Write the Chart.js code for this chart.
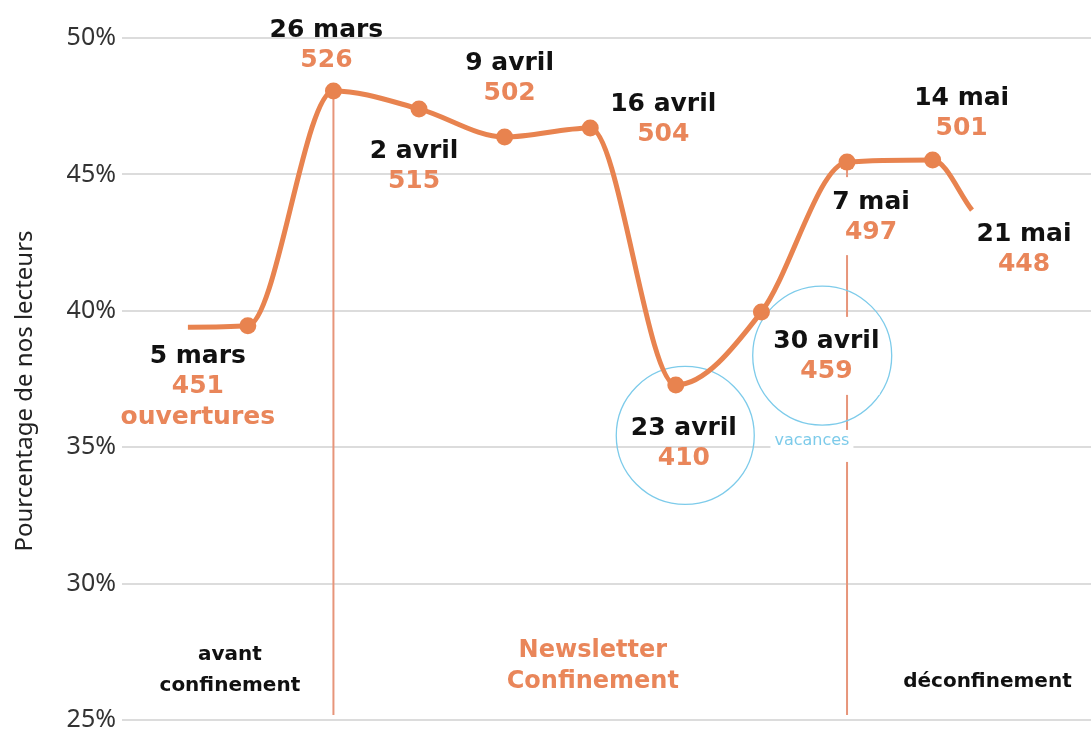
<!DOCTYPE html>
<html>
<head>
<meta charset="utf-8">
<script src="https://cdn.jsdelivr.net/npm/chart.js@4/dist/chart.umd.min.js"></script>
<style>
  html, body { margin: 0; padding: 0; background: #fff; }
  #wrap { width: 1091px; height: 731px; }
</style>
</head>
<body>
<div id="wrap"><canvas id="lineChart"></canvas></div>
<script>
// Position of each point along the x axis (one unit = one week), and open rate in %
var weekPos = [-0.7, 0, 1, 2, 3, 4, 5, 6, 7, 8, 8.46];
var openRate = [39.40, 39.45, 48.06, 47.40, 46.37, 46.70, 37.28, 39.96, 45.45, 45.53, 43.69];
// Newsletter dates and number of opens (first point is just the lead-in of the line)
var dateLabels = ['', '5 mars', '26 mars', '2 avril', '9 avril', '16 avril', '23 avril', '30 avril', '7 mai', '14 mai', '21 mai'];
var openCounts = [null, 451, 526, 515, 502, 504, 410, 459, 497, 501, 448];
var yTicks = [25, 30, 35, 40, 45, 50];

var orange = '#E8834F';
var orangeText = '#E9865A';
var blue = '#7DCBEA';

// where each date label sits relative to its point (px)
var labelOffsets = [null, [-50, 31], [-7, -60], [-5, 43], [5, -74], [73, -24], [8, 43], [65, 30], [24, 40], [29, -61], [52, 24]];
var labelWithBg = [7, 8];
// vertical markers: start of lockdown, end of lockdown
var markerLines = [2, 8];
// circles around the holidays weeks (centre in data units, radius in px)
var circles = [
    { x: 5.11, y: 35.43, r: 69 },
    { x: 6.71, y: 38.36, r: 69.5 }
];
// free texts (data units)
var phaseTexts = [
    { text: 'avant', x: -0.21, y: 27.38, color: '#111', size: 20 },
    { text: 'confinement', x: -0.21, y: 26.25, color: '#111', size: 20 },
    { text: 'Newsletter', x: 4.03, y: 27.53, color: orangeText, size: 24 },
    { text: 'Confinement', x: 4.03, y: 26.39, color: orangeText, size: 24 },
    { text: 'déconfinement', x: 8.64, y: 26.39, color: '#111', size: 20 },
    { text: 'vacances', x: 6.59, y: 35.23, color: blue, size: 16, bg: true, bold: false }
];

var handFont = '"DejaVu Sans", sans-serif';

function drawText(ctx, text, px, py, color, size, bg, bold) {
    ctx.font = (bold === false ? '' : 'bold ') + size + 'px ' + handFont;
    ctx.textAlign = 'center';
    ctx.textBaseline = 'middle';
    if (bg) {
        var w = ctx.measureText(text).width;
        ctx.fillStyle = '#fff';
        ctx.fillRect(px - w / 2 - 4, py - size / 2 - 3, w + 8, size + 16);
    }
    ctx.fillStyle = color;
    ctx.fillText(text, px, py);
}

var annotPlugin = {
    id: 'annot',
    beforeDatasetsDraw: function(chart) {
        var ctx = chart.ctx, area = chart.chartArea;
        var x = chart.scales.x, y = chart.scales.y;
        ctx.save();
        ctx.strokeStyle = '#E7957A';
        ctx.lineWidth = 2;
        markerLines.forEach(function(i) {
            var px = x.getPixelForValue(weekPos[i]);
            ctx.beginPath();
            ctx.moveTo(px, y.getPixelForValue(openRate[i]));
            ctx.lineTo(px, area.bottom - 5);
            ctx.stroke();
        });
        ctx.strokeStyle = blue;
        ctx.lineWidth = 1.3;
        circles.forEach(function(c) {
            ctx.beginPath();
            ctx.arc(x.getPixelForValue(c.x), y.getPixelForValue(c.y), c.r, 0, Math.PI * 2);
            ctx.stroke();
        });
        // axis title, drawn by hand to sit where the original one is
        ctx.translate(25, (area.top + area.bottom) / 2 + 12);
        ctx.rotate(-Math.PI / 2);
        ctx.font = '24px "Noto Sans", sans-serif';
        ctx.fillStyle = '#222';
        ctx.textAlign = 'center';
        ctx.textBaseline = 'middle';
        ctx.fillText('Pourcentage de nos lecteurs', 0, 0);
        ctx.restore();
    },
    afterDatasetsDraw: function(chart) {
        var ctx = chart.ctx;
        var x = chart.scales.x, y = chart.scales.y;
        ctx.save();
        for (var i = 1; i < dateLabels.length; i++) {
            var px = x.getPixelForValue(weekPos[i]) + labelOffsets[i][0];
            var py = y.getPixelForValue(openRate[i]) + labelOffsets[i][1];
            if (labelWithBg.indexOf(i) >= 0) {
                // one white box behind both lines
                ctx.font = 'bold 25px ' + handFont;
                var w = Math.max(ctx.measureText(dateLabels[i]).width, ctx.measureText(String(openCounts[i])).width);
                ctx.fillStyle = '#fff';
                ctx.fillRect(px - w / 2, py - 25, w, 78);
            }
            drawText(ctx, dateLabels[i], px, py, '#111', 25);
            drawText(ctx, String(openCounts[i]), px, py + 30, orangeText, 25);
            if (i === 1) {
                drawText(ctx, 'ouvertures', px, py + 61, orangeText, 25);
            }
        }
        phaseTexts.forEach(function(t) {
            drawText(ctx, t.text, x.getPixelForValue(t.x), y.getPixelForValue(t.y), t.color, t.size, t.bg, t.bold);
        });
        ctx.restore();
    }
};

var ctx = document.getElementById('lineChart').getContext('2d');
var lineChart = new Chart(ctx, {
    type: 'line',
    data: {
        datasets: [{
            data: weekPos.map(function(w, i) { return { x: w, y: openRate[i] }; }),
            borderColor: orange,
            backgroundColor: orange,
            borderWidth: 5,
            cubicInterpolationMode: 'monotone',
            pointRadius: weekPos.map(function(w, i) { return (i === 0 || i === weekPos.length - 1) ? 0 : 8.5; }),
            pointBorderWidth: 0,
            pointBackgroundColor: orange
        }]
    },
    options: {
        responsive: true,
        maintainAspectRatio: false,
        animation: false,
        layout: { padding: { top: 38, bottom: 11, left: 0, right: 0 } },
        scales: {
            x: {
                type: 'linear',
                min: -1.47,
                max: 9.85,
                display: false
            },
            y: {
                min: 25,
                max: 50,
                afterBuildTicks: function(scale) {
                    scale.ticks = yTicks.map(function(v) { return { value: v }; });
                },
                afterFit: function(scale) {
                    scale.width = 122;
                    scale.paddingTop = 0;
                    scale.paddingBottom = 0;
                },
                border: { display: false },
                grid: { color: '#dcdcdc', lineWidth: 2, drawTicks: false },
                ticks: {
                    padding: 6,
                    color: '#333',
                    font: { family: '"Noto Sans", sans-serif', size: 25, lineHeight: 0.8 },
                    callback: function(value) { return value + '%'; }
                }
            }
        },
        plugins: {
            legend: { display: false },
            tooltip: { enabled: false }
        }
    },
    plugins: [annotPlugin]
});
</script>
</body>
</html>
